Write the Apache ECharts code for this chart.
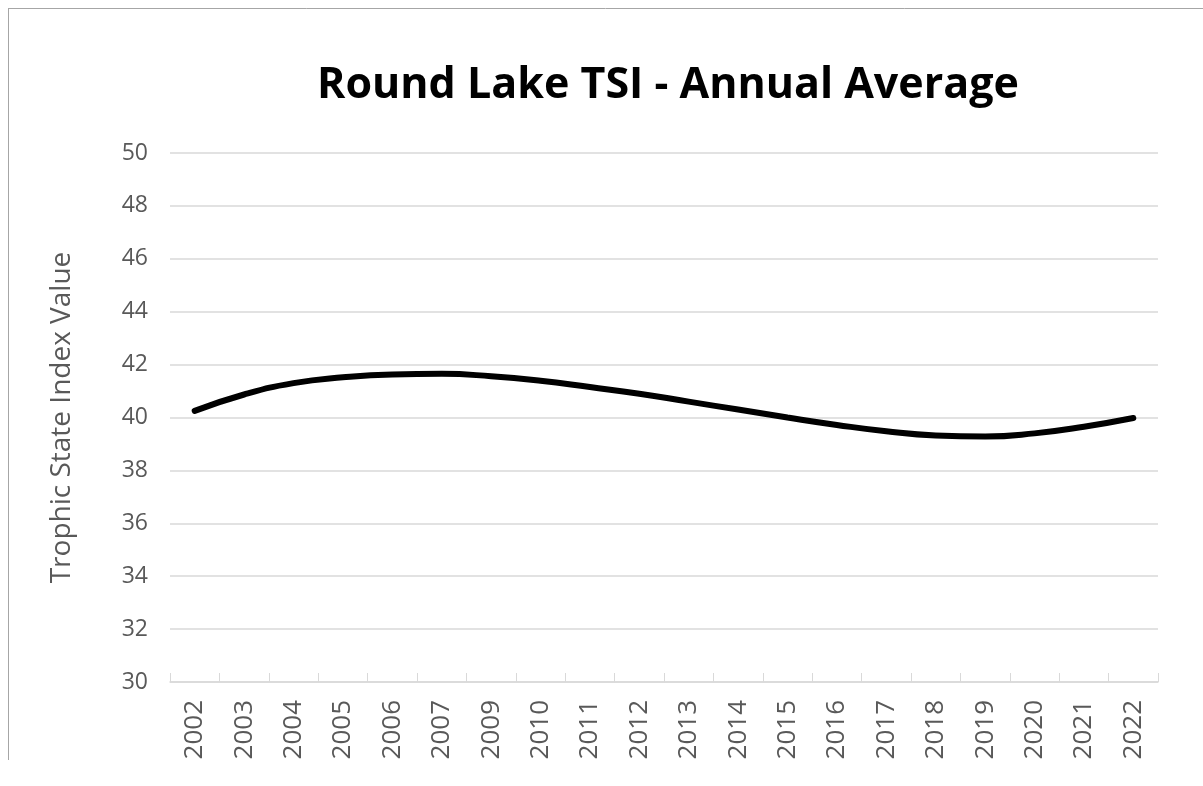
<!DOCTYPE html>
<html>
<head>
<meta charset="utf-8">
<script src="https://cdn.jsdelivr.net/npm/echarts@6/dist/echarts.min.js"></script>
<style>
  html, body { margin: 0; padding: 0; background: #fff; }
  #chart { width: 1203px; height: 786px; }
</style>
</head>
<body>
<div id="chart"></div>
<script>
// years on the axis (2008 is not in the record)
var years = ['2002', '2003', '2004', '2005', '2006', '2007', '2009', '2010', '2011', '2012',
             '2013', '2014', '2015', '2016', '2017', '2018', '2019', '2020', '2021', '2022'];
// annual average TSI
var tsi = [40.25, 40.87, 41.3, 41.52, 41.63, 41.65, 41.56, 41.39, 41.15, 40.9,
           40.6, 40.3, 40.0, 39.72, 39.48, 39.32, 39.28, 39.4, 39.65, 39.98];

var chartDom = document.getElementById('chart');
var myChart = echarts.init(chartDom);

var option = {
    backgroundColor: '#fff',
    animation: false,
    title: {
        text: 'Round Lake TSI - Annual Average',
        left: 663,
        top: 59,
        textAlign: 'center',
        textStyle: {
            fontFamily: 'Open Sans',
            fontWeight: 'bold',
            fontSize: 43,
            color: '#000'
        }
    },
    graphic: [
        { type: 'line', shape: { x1: 8, y1: 8.5, x2: 1203, y2: 8.5 }, style: { stroke: '#a6a6a6', lineWidth: 1 } },
        { type: 'line', shape: { x1: 8.5, y1: 8, x2: 8.5, y2: 760 }, style: { stroke: '#a6a6a6', lineWidth: 1 } }
    ],
    grid: {
        left: 170,
        right: 45,
        top: 153,
        bottom: 104
    },
    xAxis: {
        type: 'category',
        data: years,
        boundaryGap: true,
        axisLine: { lineStyle: { color: '#d9d9d9', width: 1.5 } },
        axisTick: { show: true, inside: true, length: 9, lineStyle: { color: '#d9d9d9' } },
        axisLabel: {
            rotate: 90,
            interval: 0,
            margin: 18,
            fontFamily: 'Open Sans',
            fontSize: 26,
            color: '#595959'
        }
    },
    yAxis: {
        type: 'value',
        min: 30,
        max: 50,
        interval: 2,
        name: 'Trophic State Index Value',
        nameLocation: 'middle',
        nameGap: 94,
        nameTextStyle: {
            fontFamily: 'Open Sans',
            fontSize: 28,
            color: '#595959'
        },
        axisLine: { show: false },
        axisTick: { show: false },
        splitLine: { lineStyle: { color: '#d9d9d9', width: 1.5 } },
        axisLabel: {
            margin: 22,
            fontFamily: 'Open Sans',
            fontSize: 23,
            color: '#595959'
        }
    },
    series: [
        {
            name: 'TSI',
            type: 'line',
            data: tsi,
            smooth: 0.5,
            showSymbol: false,
            symbol: 'none',
            lineStyle: { color: '#000', width: 6, cap: 'round' }
        }
    ]
};

myChart.setOption(option);
</script>
</body>
</html>
